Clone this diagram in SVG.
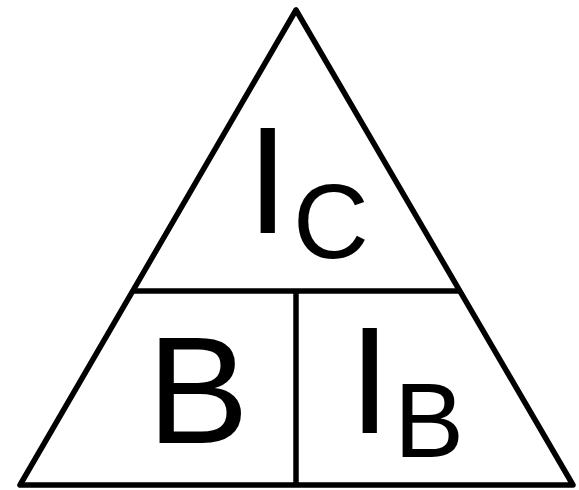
<svg xmlns="http://www.w3.org/2000/svg" width="579" height="490" viewBox="0 0 579 490">
<style>
.ln{fill:none;stroke:#000;stroke-width:5.5;stroke-linejoin:round;stroke-linecap:butt}
.big{font-family:"Liberation Sans",Arial,sans-serif;font-size:153px;fill:#000}
.sub{font-family:"Liberation Sans",Arial,sans-serif;font-size:105px;fill:#000}
</style>
<rect width="579" height="490" fill="#fff"/>
<g id="connectors">
<polygon class="ln" points="296,10 20,485 573,485"/>
<line class="ln" x1="133" y1="291" x2="460" y2="291"/>
<line class="ln" x1="296" y1="291" x2="296" y2="485"/>
</g>
<g id="node-ic"><text class="big" x="246.5" y="233">I</text><text class="sub" x="293" y="258">C</text></g>
<g id="node-b"><text class="big" x="147" y="443">B</text></g>
<g id="node-ib"><text class="big" x="348.6" y="433">I</text><text class="sub" x="394" y="457">B</text></g>
</svg>
